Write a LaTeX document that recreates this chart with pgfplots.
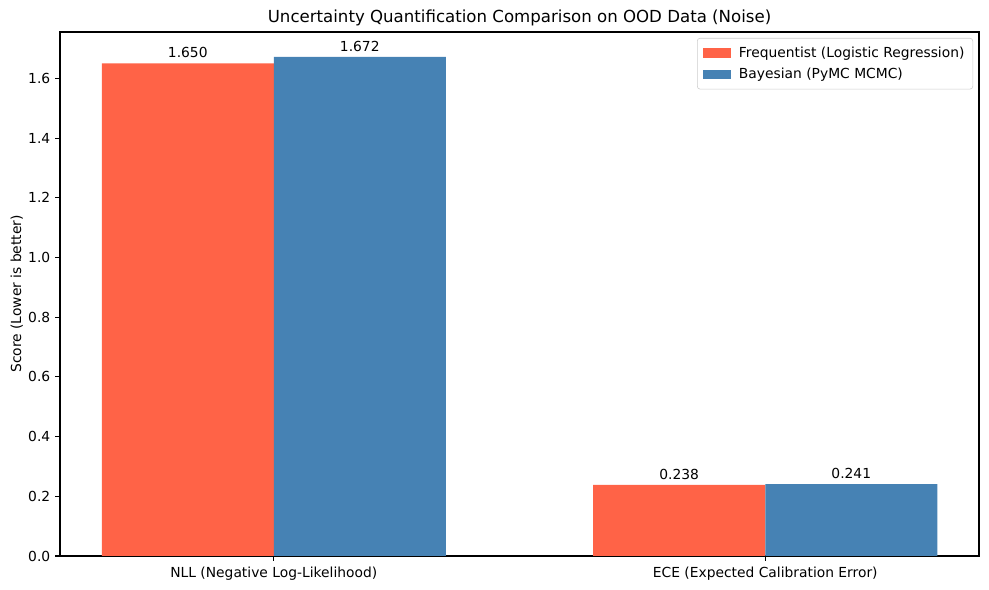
\documentclass[border=0pt]{standalone}
\usepackage{pgfplots}
\pgfplotsset{compat=1.18}
\usepackage{fontspec}
\setmainfont{DejaVu Sans}
\definecolor{tomato}{HTML}{FF6347}
\definecolor{steelblue}{HTML}{4682B4}
\begin{document}
\begin{tikzpicture}
\path[use as bounding box] (0bp,0bp) rectangle (712.08bp,424.8bp);
\begin{axis}[
  at={(43.2bp,24.48bp)}, anchor=south west,
  scale only axis,
  width=661.7bp, height=377.3bp,
  xmin=-0.435, xmax=1.435,
  ymin=0, ymax=1.7556,
  xtick={0,1},
  xticklabels={NLL (Negative Log-Likelihood),ECE (Expected Calibration Error)},
  ytick={0,0.2,...,1.6},
  yticklabel style={/pgf/number format/fixed,/pgf/number format/precision=1,/pgf/number format/fixed zerofill},
  /pgf/number format/assume math mode=true,
  tick align=outside,
  xtick pos=bottom, ytick pos=left,
  major tick length=3.5bp,
  tick style={black, line width=0.8bp},
  axis line style={line width=0.8bp},
  ticklabel style={font=\fontsize{10}{12}\selectfont},
  xticklabel style={yshift=-1bp},
  ylabel={Score (Lower is better)},
  ylabel style={font=\fontsize{10}{12}\selectfont, yshift=-3bp},
  title={Uncertainty Quantification Comparison on OOD Data (Noise)},
  title style={font=\fontsize{12}{14}\selectfont, yshift=-5bp},
  ybar, bar width=0.35,
  nodes near coords,
  every node near coord/.append style={font=\fontsize{10}{12}\selectfont, /pgf/number format/fixed, /pgf/number format/precision=3, /pgf/number format/fixed zerofill, /pgf/number format/assume math mode=true, yshift=0.5bp},
  legend style={at={(0.9935,0.9885)}, anchor=north east, draw=black!20, rounded corners=2bp, font=\fontsize{10}{12}\selectfont, row sep=2.5bp, column sep=4bp, inner xsep=4bp, inner ysep=4bp},
  legend cell align=left,
  legend image code/.code={\fill[#1, sharp corners] (0bp,-3.5bp) rectangle (20bp,3.5bp);},
]
\addplot[fill=tomato, draw=none, bar shift=-0.175] coordinates {(0,1.650) (1,0.238)};
\addlegendentry{Frequentist (Logistic Regression)}
\addplot[fill=steelblue, draw=none, bar shift=0.175] coordinates {(0,1.672) (1,0.241)};
\addlegendentry{Bayesian (PyMC MCMC)}
\end{axis}
\end{tikzpicture}
\end{document}
